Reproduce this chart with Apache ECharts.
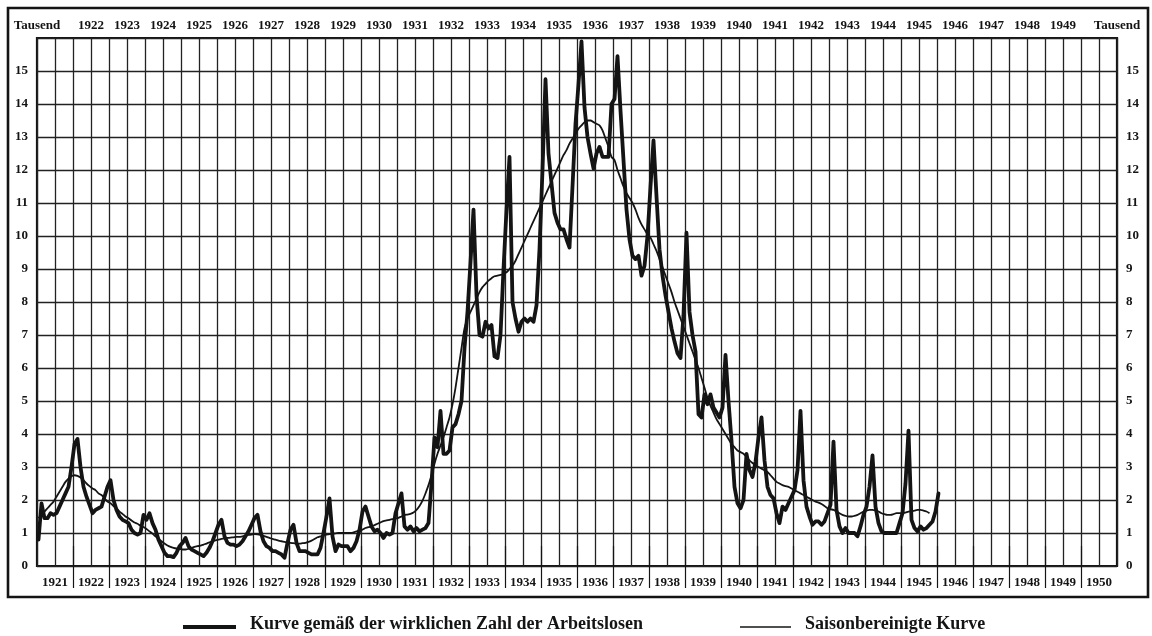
<!DOCTYPE html>
<html>
<head>
<meta charset="utf-8">
<script src="https://cdn.jsdelivr.net/npm/echarts@6/dist/echarts.min.js"></script>
<style>
  html, body { margin: 0; padding: 0; background: #fff; }
  #chart { width: 1152px; height: 636px; }
</style>
</head>
<body>
<div id="chart"></div>
<script>
// Arbeitslose in Tausend, monatlich ab Januar 1921
const actual = [
  0.8, 1.9, 1.45, 1.45, 1.6, 1.55, 1.6, 1.8, 2.0, 2.2, 2.4, 3.0,      // 1921
  3.7, 3.85, 3.0, 2.4, 2.1, 1.85, 1.6, 1.7, 1.75, 1.8, 2.1, 2.4,      // 1922
  2.6, 2.0, 1.7, 1.5, 1.4, 1.35, 1.3, 1.1, 1.0, 0.95, 1.0, 1.55,      // 1923
  1.4, 1.6, 1.3, 1.1, 0.8, 0.6, 0.4, 0.3, 0.3, 0.27, 0.4, 0.6,        // 1924
  0.7, 0.85, 0.6, 0.5, 0.45, 0.4, 0.35, 0.3, 0.4, 0.55, 0.75, 1.0,    // 1925
  1.25, 1.4, 0.9, 0.7, 0.65, 0.65, 0.6, 0.65, 0.75, 0.9, 1.05, 1.25,  // 1926
  1.45, 1.55, 1.05, 0.75, 0.6, 0.55, 0.45, 0.45, 0.4, 0.35, 0.25, 0.7, // 1927
  1.1, 1.25, 0.7, 0.45, 0.45, 0.45, 0.4, 0.35, 0.35, 0.35, 0.55, 1.0, // 1928
  1.5, 2.05, 0.9, 0.45, 0.65, 0.6, 0.6, 0.6, 0.45, 0.55, 0.75, 1.1,   // 1929
  1.65, 1.8, 1.5, 1.2, 1.05, 1.1, 1.0, 0.85, 1.0, 0.95, 1.0, 1.6,     // 1930
  1.9, 2.2, 1.2, 1.1, 1.2, 1.05, 1.15, 1.05, 1.1, 1.15, 1.3, 2.5,     // 1931
  3.9, 3.6, 4.7, 3.4, 3.4, 3.5, 4.2, 4.3, 4.6, 5.0, 6.6, 7.7,         // 1932
  9.2, 10.8, 8.2, 7.0, 6.95, 7.4, 7.2, 7.3, 6.35, 6.3, 7.0, 9.0,      // 1933
  10.8, 12.4, 8.0, 7.5, 7.1, 7.4, 7.5, 7.4, 7.5, 7.4, 7.9, 9.6,       // 1934
  12.0, 14.75, 12.5, 11.6, 10.7, 10.4, 10.2, 10.2, 9.9, 9.65, 11.5, 13.4, // 1935
  14.6, 15.9, 13.9, 13.0, 12.5, 12.05, 12.5, 12.7, 12.4, 12.4, 12.4, 14.0, // 1936
  14.15, 15.45, 13.8, 12.3, 10.8, 9.9, 9.4, 9.3, 9.4, 8.8, 9.1, 10.0, // 1937
  11.5, 12.9, 11.2, 9.6, 8.8, 8.2, 7.7, 7.2, 6.8, 6.45, 6.3, 7.6,     // 1938
  10.1, 7.7, 7.0, 6.5, 4.6, 4.5, 5.2, 4.9, 5.2, 4.8, 4.65, 4.5,       // 1939
  4.8, 6.4, 5.0, 3.8, 2.4, 1.9, 1.75, 2.0, 3.4, 2.9, 2.7, 3.15,       // 1940
  3.9, 4.5, 3.2, 2.4, 2.15, 2.05, 1.6, 1.3, 1.8, 1.7, 1.9, 2.1,       // 1941
  2.3, 2.9, 4.7, 2.6, 1.8, 1.5, 1.25, 1.35, 1.35, 1.25, 1.35, 1.6,    // 1942
  1.85, 3.77, 1.7, 1.2, 1.0, 1.15, 1.0, 1.0, 1.0, 0.9, 1.2, 1.55,     // 1943
  1.8, 2.4, 3.35, 1.8, 1.3, 1.05, 1.0, 1.0, 1.0, 1.0, 1.0, 1.3,       // 1944
  1.6, 2.5, 4.1, 1.4, 1.15, 1.05, 1.2, 1.1, 1.15, 1.25, 1.35, 1.65,   // 1945
  2.2                                                                  // Jan 1946
];

// Saisonbereinigte Kurve, monatlich ab Januar 1921 (bis Oktober 1945)
const adjusted = [
  1.45, 1.55, 1.65, 1.75, 1.85, 1.95, 2.1, 2.25, 2.4, 2.55, 2.65, 2.72,
  2.75, 2.73, 2.68, 2.6, 2.5, 2.42, 2.35, 2.3, 2.2, 2.15, 2.05, 1.95,
  1.9, 1.82, 1.75, 1.65, 1.58, 1.5, 1.45, 1.38, 1.32, 1.28, 1.22, 1.18,
  1.12, 1.05, 0.98, 0.9, 0.82, 0.75, 0.68, 0.62, 0.58, 0.55, 0.53, 0.52,
  0.5, 0.5, 0.52, 0.55, 0.58, 0.6, 0.62, 0.65, 0.68, 0.72, 0.75, 0.78,
  0.8, 0.82, 0.84, 0.85, 0.86, 0.87, 0.88, 0.88, 0.9, 0.92, 0.94, 0.95,
  0.97, 0.96, 0.94, 0.91, 0.88, 0.85, 0.82, 0.8, 0.77, 0.75, 0.73, 0.71,
  0.7, 0.69, 0.68, 0.68, 0.69, 0.7, 0.73, 0.77, 0.82, 0.87, 0.9, 0.93,
  0.95, 0.97, 0.98, 0.99, 1.0, 1.0, 1.0, 1.0, 1.0, 1.02, 1.05, 1.08,
  1.1, 1.15, 1.18, 1.2, 1.24, 1.28, 1.32, 1.36, 1.38, 1.4, 1.42, 1.44,
  1.46, 1.5, 1.54, 1.56, 1.58, 1.62, 1.7, 1.82, 1.98, 2.2, 2.45, 2.75,
  3.1, 3.4, 3.65, 3.9, 4.2, 4.5, 4.9, 5.4, 6.0, 6.6, 7.2, 7.5,
  7.7, 7.9, 8.1, 8.3, 8.45, 8.55, 8.65, 8.72, 8.78, 8.8, 8.82, 8.85,
  8.9, 9.0, 9.1, 9.25, 9.45, 9.65, 9.85, 10.05, 10.25, 10.45, 10.65, 10.85,
  11.05, 11.25, 11.45, 11.65, 11.85, 12.05, 12.25, 12.45, 12.6, 12.8, 12.95, 13.1,
  13.25, 13.35, 13.45, 13.5, 13.5, 13.45, 13.4, 13.35, 13.2, 12.95, 12.7, 12.4,
  12.3, 12.0, 11.75, 11.5, 11.3, 11.15, 11.0, 10.8, 10.55, 10.35, 10.2, 10.05,
  9.95, 9.75, 9.55, 9.3, 9.05, 8.8, 8.55, 8.3, 8.0, 7.75, 7.5, 7.25,
  7.0, 6.75, 6.5, 6.25, 6.0, 5.7, 5.4, 5.1, 4.85, 4.65, 4.45, 4.3,
  4.15, 4.0, 3.85, 3.7, 3.6, 3.5, 3.45, 3.4, 3.3, 3.2, 3.12, 3.05,
  3.0, 2.95, 2.9, 2.85, 2.75, 2.65, 2.55, 2.5, 2.45, 2.42, 2.4, 2.35,
  2.3, 2.25, 2.2, 2.15, 2.1, 2.05, 2.0, 1.95, 1.92, 1.88, 1.82, 1.75,
  1.72, 1.7, 1.65, 1.6, 1.55, 1.52, 1.5, 1.5, 1.52, 1.55, 1.6, 1.65,
  1.68, 1.7, 1.7, 1.68, 1.65, 1.6, 1.57, 1.55, 1.55, 1.57, 1.6, 1.6,
  1.6, 1.62, 1.65, 1.66, 1.68, 1.7, 1.7, 1.68, 1.65, 1.6
];

const startYear = 1921;
const bottomYears = [];
for (let y = 1921; y <= 1950; y++) bottomYears.push(String(y));
const topYears = bottomYears.slice(1, 29); // 1922 .. 1949

const unitLabel = 'Tausend';
const legendActual = 'Kurve gemäß der wirklichen Zahl der Arbeitslosen';
const legendAdjusted = 'Saisonbereinigte Kurve';

function toPoints(values) {
  return values.map((v, i) => [startYear + (i + 0.5) / 12, v]);
}

const ink = '#141414';
const serif = '"Liberation Serif", "DejaVu Serif", serif';
const labelStyle = { color: ink, fontFamily: serif, fontWeight: 'bold', fontSize: 13 };

const chart = echarts.init(document.getElementById('chart'), null, { renderer: 'canvas' });

chart.setOption({
  backgroundColor: '#fff',
  animation: false,
  grid: [
    { left: 37, right: 35, top: 38, bottom: 70, show: true, borderColor: ink, borderWidth: 2.2 },
    { left: 73, right: 71, top: 38, bottom: 70 },
  ],
  xAxis: [
    {
      type: 'value', gridIndex: 0, min: 1921, max: 1951, interval: 0.5,
      axisLine: { show: false }, axisTick: { show: false }, axisLabel: { show: false },
      splitLine: { show: true, lineStyle: { color: '#222', width: 1.3 } },
    },
    {
      type: 'category', gridIndex: 0, position: 'bottom', data: bottomYears, boundaryGap: true,
      axisLine: { show: false }, axisTick: { show: false },
      axisLabel: { ...labelStyle, margin: 10, interval: 0 },
    },
    {
      type: 'category', gridIndex: 1, position: 'top', data: topYears, boundaryGap: true,
      axisLine: { show: false },
      axisTick: { show: true, length: 20, lineStyle: { color: ink, width: 1.2 } },
      axisLabel: { ...labelStyle, margin: 6, interval: 0 },
    },
    {
      type: 'category', gridIndex: 1, position: 'bottom', data: topYears, boundaryGap: true,
      axisLine: { show: false },
      axisTick: { show: true, length: 22, lineStyle: { color: ink, width: 1.2 } },
      axisLabel: { show: false },
    },
  ],
  yAxis: [
    {
      type: 'value', gridIndex: 0, min: 0, max: 16, interval: 1, position: 'left',
      name: unitLabel, nameLocation: 'end', nameGap: 6,
      nameTextStyle: { ...labelStyle, align: 'center' },
      axisLine: { show: false }, axisTick: { show: false },
      axisLabel: { ...labelStyle, margin: 9, formatter: (v) => (v === 16 ? '' : v) },
      splitLine: { show: true, lineStyle: { color: '#222', width: 1.3 } },
    },
    {
      type: 'value', gridIndex: 0, min: 0, max: 16, interval: 1, position: 'right',
      name: unitLabel, nameLocation: 'end', nameGap: 6,
      nameTextStyle: { ...labelStyle, align: 'center' },
      axisLine: { show: false }, axisTick: { show: false },
      axisLabel: { ...labelStyle, margin: 9, formatter: (v) => (v === 16 ? '' : v) },
      splitLine: { show: false },
    },
    { type: 'value', gridIndex: 1, show: false, min: 0, max: 16 },
  ],
  series: [
    {
      name: legendAdjusted, type: 'line', xAxisIndex: 0, yAxisIndex: 0,
      data: toPoints(adjusted), symbol: 'none', smooth: 0.3,
      lineStyle: { color: ink, width: 1.8 }, z: 3,
    },
    {
      name: legendActual, type: 'line', xAxisIndex: 0, yAxisIndex: 0,
      data: toPoints(actual), symbol: 'none',
      lineStyle: { color: ink, width: 3.8, join: 'round', cap: 'round' }, z: 4,
    },
  ],
  graphic: [
    {
      type: 'rect', silent: true, z: -1,
      shape: { x: 8, y: 8, width: 1140, height: 589 },
      style: { fill: 'none', stroke: ink, lineWidth: 2.6 },
    },
    {
      type: 'line', silent: true,
      shape: { x1: 183, y1: 627, x2: 236, y2: 627 },
      style: { stroke: ink, lineWidth: 4 },
    },
    {
      type: 'text', silent: true, left: 250, top: 615,
      style: { text: legendActual, fill: ink, font: 'bold 18px ' + serif },
    },
    {
      type: 'line', silent: true,
      shape: { x1: 740, y1: 627, x2: 791, y2: 627 },
      style: { stroke: ink, lineWidth: 1.5 },
    },
    {
      type: 'text', silent: true, left: 805, top: 615,
      style: { text: legendAdjusted, fill: ink, font: 'bold 18px ' + serif },
    },
  ],
});
</script>
</body>
</html>
